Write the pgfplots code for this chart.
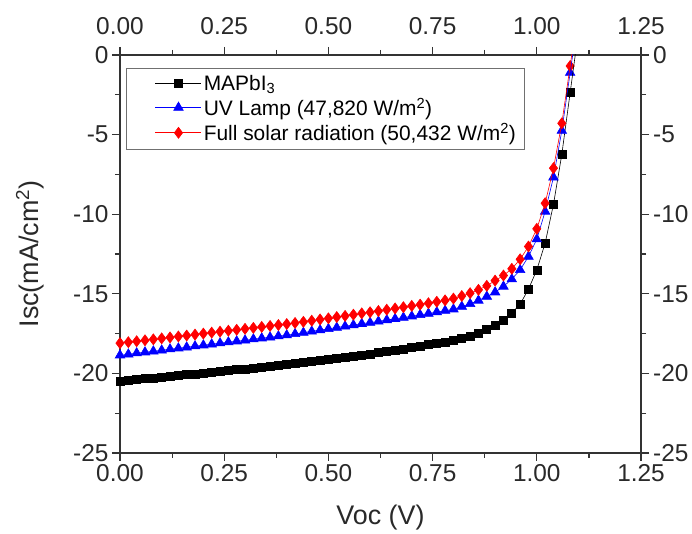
\documentclass[border=0pt]{standalone}
\usepackage{fontspec}
\setmainfont{Liberation Sans}
\usepackage{pgfplots}
\pgfplotsset{compat=1.18}

% J-V curves: voltage (V) vs current density (mA/cm^2)
\pgfplotstableread{
V      I
0.00  -20.48
0.02  -20.43
0.04  -20.38
0.06  -20.33
0.08  -20.28
0.10  -20.23
0.12  -20.18
0.14  -20.13
0.16  -20.08
0.18  -20.03
0.20  -19.98
0.22  -19.93
0.24  -19.88
0.26  -19.83
0.28  -19.77
0.30  -19.72
0.32  -19.66
0.34  -19.60
0.36  -19.55
0.38  -19.49
0.40  -19.43
0.42  -19.37
0.44  -19.31
0.46  -19.25
0.48  -19.19
0.50  -19.12
0.52  -19.06
0.54  -18.99
0.56  -18.92
0.58  -18.85
0.60  -18.78
0.62  -18.70
0.64  -18.62
0.66  -18.54
0.68  -18.46
0.70  -18.38
0.72  -18.29
0.74  -18.20
0.76  -18.11
0.78  -18.02
0.80  -17.92
0.82  -17.80
0.84  -17.65
0.86  -17.47
0.88  -17.26
0.90  -17.01
0.92  -16.64
0.94  -16.22
0.96  -15.65
0.98  -14.71
1.00  -13.50
1.02  -11.82
1.04  -9.38
1.06  -6.24
1.08  -2.37
}\mapbi

\pgfplotstableread{
V      I
0.00  -18.86
0.02  -18.80
0.04  -18.73
0.06  -18.67
0.08  -18.61
0.10  -18.55
0.12  -18.48
0.14  -18.42
0.16  -18.36
0.18  -18.29
0.20  -18.23
0.22  -18.17
0.24  -18.10
0.26  -18.04
0.28  -17.98
0.30  -17.92
0.32  -17.85
0.34  -17.79
0.36  -17.73
0.38  -17.66
0.40  -17.60
0.42  -17.52
0.44  -17.44
0.46  -17.36
0.48  -17.28
0.50  -17.20
0.52  -17.12
0.54  -17.04
0.56  -16.96
0.58  -16.88
0.60  -16.81
0.62  -16.73
0.64  -16.65
0.66  -16.57
0.68  -16.49
0.70  -16.41
0.72  -16.32
0.74  -16.24
0.76  -16.15
0.78  -16.06
0.80  -15.97
0.82  -15.80
0.84  -15.63
0.86  -15.42
0.88  -15.17
0.90  -14.90
0.92  -14.54
0.94  -14.08
0.96  -13.50
0.98  -12.66
1.00  -11.57
1.02  -9.83
1.04  -7.68
1.06  -4.75
1.08  -1.11
}\uvlamp

\pgfplotstableread{
V      I
0.00  -18.10
0.02  -18.04
0.04  -17.98
0.06  -17.92
0.08  -17.86
0.10  -17.80
0.12  -17.74
0.14  -17.68
0.16  -17.62
0.18  -17.56
0.20  -17.50
0.22  -17.44
0.24  -17.38
0.26  -17.32
0.28  -17.26
0.30  -17.20
0.32  -17.14
0.34  -17.08
0.36  -17.02
0.38  -16.96
0.40  -16.90
0.42  -16.83
0.44  -16.76
0.46  -16.69
0.48  -16.61
0.50  -16.54
0.52  -16.46
0.54  -16.39
0.56  -16.31
0.58  -16.23
0.60  -16.16
0.62  -16.08
0.64  -16.00
0.66  -15.92
0.68  -15.84
0.70  -15.76
0.72  -15.68
0.74  -15.59
0.76  -15.50
0.78  -15.41
0.80  -15.30
0.82  -15.14
0.84  -14.96
0.86  -14.75
0.88  -14.50
0.90  -14.17
0.92  -13.85
0.94  -13.43
0.96  -12.83
0.98  -12.03
1.00  -10.92
1.02  -9.31
1.04  -7.11
1.06  -4.29
1.08  -0.69
}\fullsun

\definecolor{axgray}{gray}{0.2}
\newcommand\ticksize{\fontsize{24.5}{28}\selectfont}

\begin{document}
\begin{tikzpicture}
% page frame: every element below lies inside it
\path (0bp,0bp) rectangle (692bp,532bp);
\begin{axis}[
  scale only axis, width=521bp, height=398bp,
  at={(120bp,79bp)}, anchor=south west,
  xmin=0, xmax=1.25, ymin=-25, ymax=0,
  xtick={0,0.25,0.5,0.75,1,1.25},
  ytick={-25,-20,-15,-10,-5,0},
  xticklabels={0.00,0.25,0.50,0.75,1.00,1.25},
  yticklabels={-25,-20,-15,-10,-5,0},
  tick label style={font=\ticksize, text=axgray!80!black},
  minor x tick num=1, minor y tick num=1,
  tick align=outside,
  major tick length=8bp, minor tick length=5bp,
  axis line style={draw=axgray, line width=1.2bp},
  tick style={draw=axgray, line width=1.2bp},
  xtick pos=both, ytick pos=both,
  xticklabel pos=bottom, yticklabel pos=left,
  clip mode=individual,
  xlabel={Voc (V)},
  ylabel={Isc(mA/cm\textsuperscript{2})},
  label style={font=\fontsize{27}{30}\selectfont, text=axgray!80!black},
  xlabel style={at={(axis description cs:0.5,-0.163)}, anchor=center},
  ylabel style={at={(axis description cs:-0.173,0.5)}, anchor=center},
  legend style={
    at={(axis description cs:0.0115,0.967)}, anchor=north west,
    draw=axgray!70,
    font=\fontsize{21}{25}\selectfont,
    inner xsep=6bp, inner ysep=5bp,
    row sep=2bp,
  },
  legend cell align=left,
  legend image code/.code={%
    \path (0bp,0bp);
    \draw[mark repeat=2, mark phase=2]
      plot coordinates {(23bp,0bp) (46bp,0bp) (69bp,0bp)};},
]
\addplot[black, line width=0.6bp, mark=square*, mark size=4bp,
  mark options={solid, fill=black}] table[x=V, y=I] {\mapbi};
\addlegendentry{MAPbI\textsubscript{3}}
\addplot[blue, line width=0.6bp, mark=triangle*, mark size=5.5bp,
  mark options={solid, fill=blue}] table[x=V, y=I] {\uvlamp};
\addlegendentry{UV Lamp (47,820 W/m\textsuperscript{2})}
\addplot[red, line width=0.6bp, mark=diamond*, mark size=5.5bp,
  mark options={solid, fill=red}] table[x=V, y=I] {\fullsun};
\addlegendentry{Full solar radiation (50,432 W/m\textsuperscript{2})}

% the curves run on past the open-circuit point
\addplot[black, line width=0.6bp, forget plot] coordinates {(1.08,-2.37) (1.10,1.5)};
\addplot[blue, line width=0.6bp, forget plot] coordinates {(1.08,-1.11) (1.09,0.7)};
\addplot[red, line width=0.6bp, forget plot] coordinates {(1.08,-0.69) (1.09,1.1)};

% tick labels repeated along the top and right edges
\begin{scope}[every node/.style={font=\ticksize, text=axgray!80!black, inner sep=0pt}]
  \node[anchor=base, yshift=20bp] at (axis cs:0,0)    {0.00};
  \node[anchor=base, yshift=20bp] at (axis cs:0.25,0) {0.25};
  \node[anchor=base, yshift=20bp] at (axis cs:0.5,0)  {0.50};
  \node[anchor=base, yshift=20bp] at (axis cs:0.75,0) {0.75};
  \node[anchor=base, yshift=20bp] at (axis cs:1,0)    {1.00};
  \node[anchor=base, yshift=20bp] at (axis cs:1.25,0) {1.25};
  \node[anchor=west, xshift=12bp] at (axis cs:1.25,0)   {0};
  \node[anchor=west, xshift=12bp] at (axis cs:1.25,-5)  {-5};
  \node[anchor=west, xshift=12bp] at (axis cs:1.25,-10) {-10};
  \node[anchor=west, xshift=12bp] at (axis cs:1.25,-15) {-15};
  \node[anchor=west, xshift=12bp] at (axis cs:1.25,-20) {-20};
  \node[anchor=west, xshift=12bp] at (axis cs:1.25,-25) {-25};
\end{scope}
\end{axis}

% outward tick marks on all four sides of the frame
% (frame: x from 120bp to 641bp, y from 79bp to 477bp; major every 2nd step)
\foreach \k in {0,...,10} {
  \pgfmathsetmacro\xx{120+52.1*\k}
  \pgfmathsetmacro\yy{79+39.8*\k}
  \pgfmathsetmacro\len{ifthenelse(mod(\k,2)==0,8,5)}
  \draw[axgray, line width=1.2bp]
    (\xx bp,79bp) -- ++(0bp,-\len bp)
    (\xx bp,477bp) -- ++(0bp,\len bp)
    (120bp,\yy bp) -- ++(-\len bp,0bp)
    (641bp,\yy bp) -- ++(\len bp,0bp);
}
\end{tikzpicture}
\end{document}
